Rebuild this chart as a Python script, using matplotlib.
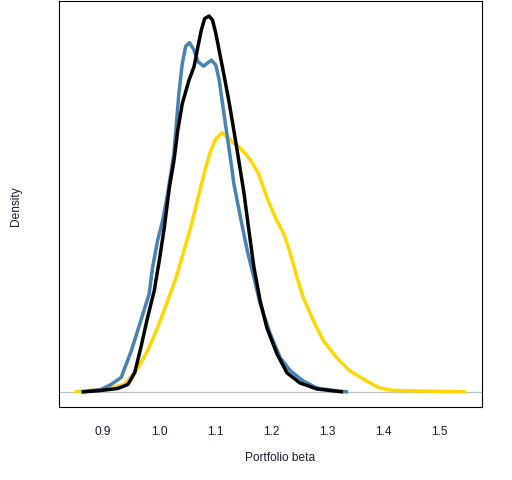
import matplotlib
matplotlib.use("Agg")
import matplotlib.pyplot as plt

# density curves (x = portfolio beta, y = density)
blue_x = [0.860, 0.896, 0.914, 0.932, 0.950, 0.967, 0.982, 0.988, 0.997, 1.006,
          1.015, 1.026, 1.030, 1.035, 1.041, 1.047, 1.054, 1.062, 1.069, 1.079,
          1.087, 1.093, 1.101, 1.107, 1.112, 1.118, 1.124, 1.130, 1.133, 1.145,
          1.157, 1.169, 1.180, 1.198, 1.216, 1.234, 1.257, 1.281, 1.311, 1.337]
blue_y = [0.00, 0.05, 0.15, 0.29, 0.82, 1.42, 1.96, 2.48, 3.02, 3.42,
          3.96, 4.75, 5.28, 5.96, 6.55, 6.89, 6.97, 6.82, 6.59, 6.50,
          6.57, 6.62, 6.52, 6.22, 5.82, 5.35, 4.89, 4.42, 4.16, 3.48,
          2.82, 2.28, 1.76, 1.16, 0.68, 0.42, 0.22, 0.08, 0.03, 0.00]

black_x = [0.862, 0.896, 0.926, 0.944, 0.956, 0.967, 0.979, 0.991, 1.000, 1.009,
           1.018, 1.026, 1.033, 1.041, 1.053, 1.062, 1.069, 1.075, 1.081, 1.089,
           1.095, 1.101, 1.108, 1.115, 1.124, 1.132, 1.139, 1.151, 1.160, 1.169,
           1.180, 1.192, 1.210, 1.228, 1.251, 1.281, 1.328]
black_y = [0.00, 0.03, 0.07, 0.15, 0.38, 0.88, 1.48, 2.02, 2.62, 3.28,
           4.08, 4.60, 5.22, 5.75, 6.22, 6.49, 6.89, 7.22, 7.45, 7.50,
           7.42, 7.15, 6.75, 6.35, 5.82, 5.29, 4.82, 3.98, 3.22, 2.48,
           1.82, 1.28, 0.76, 0.38, 0.18, 0.06, 0.00]

gold_x = [0.849, 0.855, 0.902, 0.938, 0.962, 0.979, 0.997, 1.015, 1.030, 1.044,
          1.056, 1.068, 1.083, 1.092, 1.101, 1.112, 1.121, 1.130, 1.142, 1.154,
          1.163, 1.177, 1.192, 1.207, 1.222, 1.234, 1.246, 1.257, 1.275, 1.293,
          1.317, 1.340, 1.370, 1.393, 1.417, 1.480, 1.520, 1.548]
gold_y = [0.00, 0.01, 0.05, 0.15, 0.48, 0.82, 1.28, 1.82, 2.28, 2.82,
          3.28, 3.82, 4.49, 4.82, 5.05, 5.17, 5.09, 4.99, 4.89, 4.75,
          4.62, 4.36, 3.88, 3.48, 3.16, 2.76, 2.28, 1.88, 1.42, 1.02,
          0.68, 0.42, 0.22, 0.08, 0.03, 0.016, 0.01, 0.00]

xticks = [0.9, 1.0, 1.1, 1.2, 1.3, 1.4, 1.5]

plt.rcParams['font.family'] = ['Liberation Sans', 'DejaVu Sans']

fig = plt.figure(figsize=(5.12, 4.8), dpi=100)
ax = fig.add_axes([59 / 512, 1 - 407 / 480, 423 / 512, 406 / 480])

ax.axhline(0, color="#bebebe", lw=0.9, zorder=1)
style = dict(lw=2.5, solid_joinstyle="round", solid_capstyle="butt")
ax.plot(gold_x, gold_y, color="#FFD700", zorder=2, **style)
ax.plot(blue_x, blue_y, color="#4682B4", zorder=3, **style)
ax.plot(black_x, black_y, color="black", zorder=4, **style)

# R style 4% padding around the data range
xmin, xmax = min(gold_x + blue_x + black_x), max(gold_x + blue_x + black_x)
ymax = max(black_y)
ax.set_xlim(xmin - 0.04 * (xmax - xmin), xmax + 0.04 * (xmax - xmin))
ax.set_ylim(-0.04 * ymax, 1.04 * ymax)

ax.set_xticks(xticks)
ax.set_xticklabels([f"{t:.1f}" for t in xticks], color="#1a1a33", fontsize=8.6)
ax.tick_params(axis="x", length=0, pad=14)
ax.set_yticks([])

for s in ax.spines.values():
    s.set_linewidth(0.8)

fig.text(280 / 512, 1 - 458 / 480, "Portfolio beta", ha="center", va="center",
         fontsize=8.6, color="#1a1a33")
fig.text(16 / 512, 1 - 206 / 480, "Density", ha="center", va="center",
         rotation=90, fontsize=8.6, color="#1a1a33")

fig.savefig("out.png", dpi=100)
